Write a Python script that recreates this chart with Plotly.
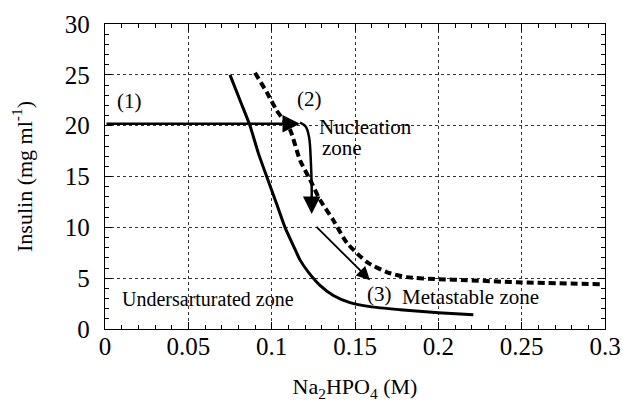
import plotly.graph_objects as go

# Solubility curve (solid)
sol_x = [0.075, 0.081, 0.087, 0.092, 0.097, 0.103, 0.108, 0.113, 0.117, 0.122, 0.129, 0.137, 0.147, 0.159, 0.177, 0.200, 0.221]
sol_y = [25.0, 22.5, 20.0, 17.3, 15.0, 12.3, 10.0, 8.2, 6.8, 5.6, 4.3, 3.3, 2.6, 2.2, 1.9, 1.6, 1.4]

# Supersolubility curve (dashed)
sup_x = [0.090, 0.097, 0.103, 0.111, 0.117, 0.123, 0.129, 0.137, 0.145, 0.157, 0.169, 0.181, 0.200, 0.217, 0.247, 0.297]
sup_y = [25.2, 23.3, 21.5, 19.6, 16.6, 14.7, 12.7, 10.7, 8.5, 6.6, 5.6, 5.1, 4.9, 4.8, 4.6, 4.4]

# Path (1) -> (2): horizontal arrow
path1_x = [0.0, 0.117]
path1_y = [20.2, 20.2]

# Path (2) -> nucleation: curved arrow
path2_x = [0.117, 0.1205, 0.1225, 0.1235, 0.124, 0.124]
path2_y = [20.3, 19.9, 18.8, 16.5, 14.0, 12.5]

# Path -> (3): diagonal arrow
path3_x = [0.126, 0.159]
path3_y = [10.2, 4.8]

x_ticks = [0, 0.05, 0.1, 0.15, 0.2, 0.25, 0.3]
x_tick_labels = ["0", "0.05", "0.1", "0.15", "0.2", "0.25", "0.3"]
y_ticks = [0, 5, 10, 15, 20, 25, 30]

serif = "Liberation Serif, Times New Roman, serif"

fig = go.Figure()
fig.add_trace(go.Scatter(x=sol_x, y=sol_y, mode="lines",
                         line=dict(color="black", width=3, shape="spline", smoothing=0.6)))
fig.add_trace(go.Scatter(x=sup_x, y=sup_y, mode="lines",
                         line=dict(color="black", width=4, dash="7px,4px", shape="spline", smoothing=0.6)))
fig.add_trace(go.Scatter(x=path2_x, y=path2_y, mode="lines",
                         line=dict(color="black", width=2.5, shape="spline", smoothing=1)))

# Arrows
fig.add_annotation(x=path1_x[1], y=path1_y[1], ax=path1_x[0], ay=path1_y[0],
                   xref="x", yref="y", axref="x", ayref="y", text="",
                   showarrow=True, arrowhead=2, arrowsize=1.4, arrowwidth=2.5, arrowcolor="black")
fig.add_annotation(x=0.124, y=11.3, ax=path2_x[-1], ay=path2_y[-1],
                   xref="x", yref="y", axref="x", ayref="y", text="",
                   showarrow=True, arrowhead=2, arrowsize=1.4, arrowwidth=2.5, arrowcolor="black")
fig.add_annotation(x=path3_x[1], y=path3_y[1], ax=path3_x[0], ay=path3_y[0],
                   xref="x", yref="y", axref="x", ayref="y", text="",
                   showarrow=True, arrowhead=2, arrowsize=1.5, arrowwidth=1.8, arrowcolor="black")

# Labels
labels = [
    ("(1)", 0.006, 22.4, "left", 21),
    ("(2)", 0.114, 22.6, "left", 21),
    ("Nucleation", 0.127, 19.9, "left", 21),
    ("zone", 0.129, 17.8, "left", 21),
    ("Undersarturated zone", 0.009, 3.0, "left", 20),
    ("(3)", 0.156, 3.4, "left", 21),
    ("Metastable zone", 0.177, 3.1, "left", 21),
]
for t, lx, ly, al, sz in labels:
    fig.add_annotation(x=lx, y=ly, xref="x", yref="y", text=t, showarrow=False,
                       xanchor=al, yanchor="middle", font=dict(family=serif, size=sz, color="black"))

axis_common = dict(
    showline=True, linecolor="black", linewidth=1.2, mirror="allticks",
    ticks="inside", ticklen=7, tickwidth=1, tickcolor="black",
    showgrid=True, gridcolor="#333333", griddash="dot", gridwidth=1,
    zeroline=False, automargin=False,
    tickfont=dict(family=serif, size=25, color="black"),
)

fig.update_xaxes(range=[0, 0.3], tickvals=x_ticks, ticktext=x_tick_labels, ticklabelstandoff=-5,
                 minor=dict(dtick=0.01, ticks="inside", ticklen=4, tickcolor="black", showgrid=False),
                 title=dict(text="Na<sub>2</sub>HPO<sub>4</sub> (M)", font=dict(family=serif, size=22, color="black"),
                            standoff=19),
                 **axis_common)
fig.update_yaxes(range=[0, 30], tickvals=y_ticks, ticklabelstandoff=9,
                 minor=dict(dtick=1, ticks="inside", ticklen=4, tickcolor="black", showgrid=False),
                 title=dict(text="Insulin (mg ml<sup>-1</sup>)", font=dict(family=serif, size=22, color="black"),
                            standoff=26),
                 **axis_common)

fig.update_layout(
    width=622, height=412,
    margin=dict(l=105, r=17, t=24, b=83),
    plot_bgcolor="white", paper_bgcolor="white",
    showlegend=False,
    hovermode=False,
)

# Remove the default page margin so the figure fills the window exactly.
fig.write_html("out.html",
               config={"displayModeBar": False, "staticPlot": True},
               post_script="document.body.style.margin='0';document.body.style.overflow='hidden';")
